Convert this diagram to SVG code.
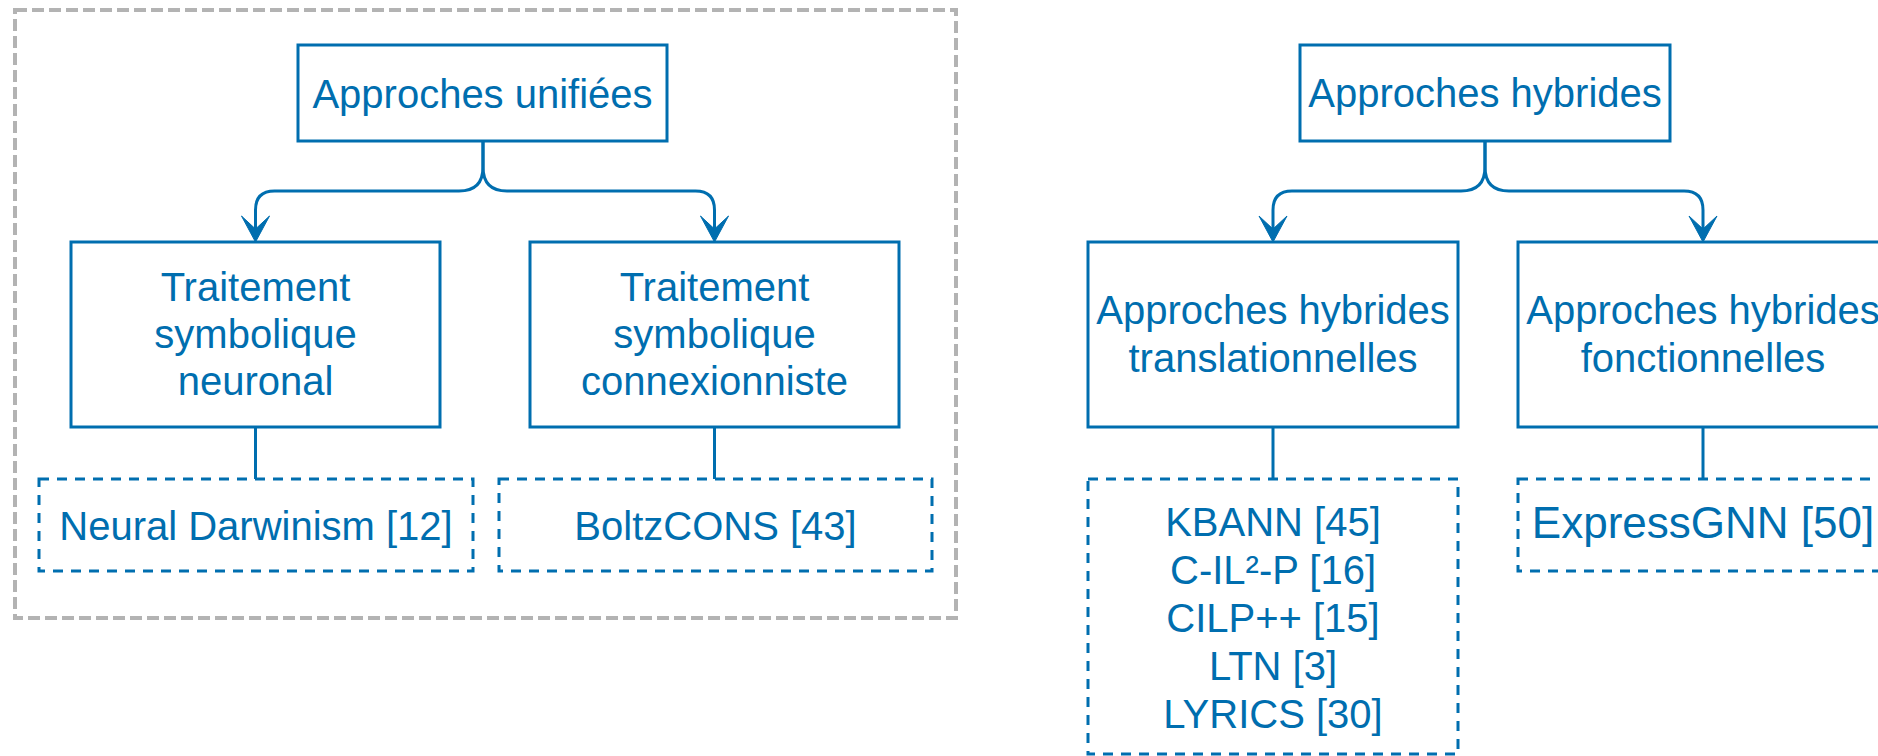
<svg xmlns="http://www.w3.org/2000/svg" width="1878" height="756" viewBox="0 0 1878 756">
  <defs>
    <style>
      .box { fill: #FFFFFF; stroke: #006EAF; stroke-width: 3; }
      .leaf { fill: #FFFFFF; stroke: #006EAF; stroke-width: 3; stroke-dasharray: 10 8; }
      .frame { fill: none; stroke: #B3B3B3; stroke-width: 4; stroke-dasharray: 12 5; }
      .edge { fill: none; stroke: #006EAF; stroke-width: 3; }
      .label { font-family: "Liberation Sans", Arial, sans-serif; font-size: 40px; fill: #006EAF; text-anchor: middle; }
      .big { font-size: 44px; }
    </style>
    <marker id="arrow" markerUnits="userSpaceOnUse" markerWidth="40" markerHeight="40" refX="0" refY="0" orient="auto" overflow="visible">
      <path d="M12,0 L-14,-14 L-1,0 L-14,14 Z" fill="#006EAF" stroke="#006EAF" stroke-width="1"/>
    </marker>
  </defs>

  <rect width="1878" height="756" fill="#FFFFFF"/>

  <!-- Container around the unified approaches -->
  <g id="unified-frame">
    <rect class="frame" x="15" y="10" width="941" height="608"/>
  </g>

  <!-- Connectors -->
  <g id="connectors">
    <path class="edge" d="M483,141 V167 Q483,191 459,191 H274.5 Q255.5,191 255.5,210 V230" marker-end="url(#arrow)"/>
    <path class="edge" d="M483,141 V167 Q483,191 507,191 H695.5 Q714.5,191 714.5,210 V230" marker-end="url(#arrow)"/>
    <path class="edge" d="M255.5,427 V479"/>
    <path class="edge" d="M714.5,427 V479"/>
    <path class="edge" d="M1485,141 V167 Q1485,191 1461,191 H1292 Q1273,191 1273,210 V230" marker-end="url(#arrow)"/>
    <path class="edge" d="M1485,141 V167 Q1485,191 1509,191 H1684 Q1703,191 1703,210 V230" marker-end="url(#arrow)"/>
    <path class="edge" d="M1273,427 V479"/>
    <path class="edge" d="M1703,427 V479"/>
  </g>

  <!-- Unified approaches -->
  <g id="approches-unifiees">
    <rect class="box" x="298" y="45" width="369" height="96"/>
    <text class="label" x="482.5" y="108">Approches unifiées</text>
  </g>
  <g id="traitement-neuronal">
    <rect class="box" x="71" y="242" width="369" height="185"/>
    <text class="label" x="255.5" y="301">Traitement</text>
    <text class="label" x="255.5" y="348">symbolique</text>
    <text class="label" x="255.5" y="395">neuronal</text>
  </g>
  <g id="traitement-connexionniste">
    <rect class="box" x="530" y="242" width="369" height="185"/>
    <text class="label" x="714.5" y="301">Traitement</text>
    <text class="label" x="714.5" y="348">symbolique</text>
    <text class="label" x="714.5" y="395">connexionniste</text>
  </g>
  <g id="neural-darwinism">
    <rect class="leaf" x="39" y="479" width="434" height="92"/>
    <text class="label" x="256" y="540">Neural Darwinism [12]</text>
  </g>
  <g id="boltzcons">
    <rect class="leaf" x="499" y="479" width="433" height="92"/>
    <text class="label" x="715.5" y="540">BoltzCONS [43]</text>
  </g>

  <!-- Hybrid approaches -->
  <g id="approches-hybrides">
    <rect class="box" x="1300" y="45" width="370" height="96"/>
    <text class="label" x="1485" y="107">Approches hybrides</text>
  </g>
  <g id="hybrides-translationnelles">
    <rect class="box" x="1088" y="242" width="370" height="185"/>
    <text class="label" x="1273" y="324">Approches hybrides</text>
    <text class="label" x="1273" y="372">translationnelles</text>
  </g>
  <g id="hybrides-fonctionnelles">
    <rect class="box" x="1518" y="242" width="370" height="185"/>
    <text class="label" x="1703" y="324">Approches hybrides</text>
    <text class="label" x="1703" y="372">fonctionnelles</text>
  </g>
  <g id="translational-systems">
    <rect class="leaf" x="1088" y="479" width="370" height="275"/>
    <text class="label" x="1273" y="536">KBANN [45]</text>
    <text class="label" x="1273" y="584">C-IL²-P [16]</text>
    <text class="label" x="1273" y="632">CILP++ [15]</text>
    <text class="label" x="1273" y="680">LTN [3]</text>
    <text class="label" x="1273" y="728">LYRICS [30]</text>
  </g>
  <g id="expressgnn">
    <rect class="leaf" x="1518" y="479" width="370" height="92"/>
    <text class="label big" x="1703" y="538">ExpressGNN [50]</text>
  </g>
</svg>
